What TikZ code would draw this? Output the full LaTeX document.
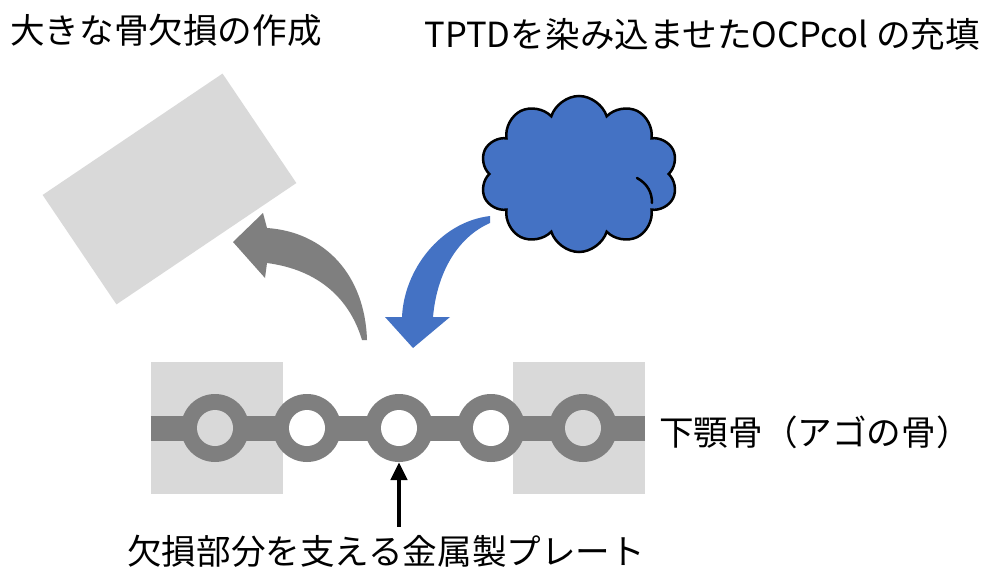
\documentclass[tikz,border=0pt]{standalone}
\usepackage{fontspec}
\setmainfont{Noto Sans CJK JP}
\usetikzlibrary{shapes.symbols, arrows.meta}
\definecolor{bonegray}{RGB}{217,217,217}
\definecolor{plategray}{RGB}{127,127,127}
\definecolor{fillblue}{RGB}{68,114,196}

\begin{document}
\begin{tikzpicture}[x=1pt, y=-1pt,
  labeltext/.style={font=\fontsize{34.6}{40}\selectfont, inner sep=0pt, text=black},
  bone/.style={fill=bonegray, draw=none, inner sep=0pt},
  ring/.style={circle, fill=plategray, minimum size=68pt, inner sep=0pt},
  hole/.style={circle, minimum size=36pt, inner sep=0pt},
  pointer/.style={line width=4.5pt, -{Triangle[length=18pt, width=16pt]}},
]
\useasboundingbox (0,0) rectangle (987,572);
\fill[white] (0,0) rectangle (987,572);

% removed bone block, tilted away from the jaw
\node[bone, minimum width=217pt, minimum height=132pt, rotate=34] (block) at (169.5,189) {};

% remaining jaw bone on both sides
\node[bone, minimum width=132pt, minimum height=132pt] (jawL) at (217,428) {};
\node[bone, minimum width=132pt, minimum height=132pt] (jawR) at (579,428) {};

% metal plate: bar with screw rings
\draw[plategray, line width=25pt] (jawL.west) -- (jawR.east);
\foreach \i/\x in {1/215, 2/307, 3/399, 4/491, 5/583}
  \node[ring] (r\i) at (\x,428) {};
\node[hole, fill=bonegray] (h1) at (r1) {};
\node[hole, fill=white] (h2) at (r2) {};
\node[hole, fill=white] (h3) at (r3) {};
\node[hole, fill=white] (h4) at (r4) {};
\node[hole, fill=bonegray] (h5) at (r5) {};

% curved arrow: the block is taken out
\fill[plategray] (367,340) .. controls (365,275) and (325,232) .. (267,228)
  -- (263,213) -- (233,242) -- (265,278) -- (267,263)
  .. controls (320,270) and (350,300) .. (362,340) -- cycle;

% soaked scaffold
\node[cloud, cloud puffs=10, cloud puff arc=145, aspect=1.3, draw=black,
  line width=2.5pt, fill=fillblue, minimum width=198pt, minimum height=156pt,
  inner sep=0pt] (cloud) at (579,174) {};
\draw[line width=2.5pt, line cap=round] (637,178) .. controls (648,184) and (652,193) .. (652,203);

% curved arrow: the scaffold fills the defect
\fill[fillblue] (490,216) .. controls (440,222) and (404,270) .. (402,317)
  -- (385,317) -- (413,348) -- (450,317) -- (433,317)
  .. controls (437,272) and (458,237) .. (490,223) -- cycle;

% texts
\node[labeltext, anchor=west] (defect) at (10,30) {大きな骨欠損の作成};
\node[labeltext, anchor=east] (filling) at (980,34) {TPTDを染み込ませたOCPcol の充填};
\node[labeltext, anchor=west] (jawname) at (659,432) {下顎骨（アゴの骨）};
\node[labeltext, anchor=west] (plate) at (127,551) {欠損部分を支える金属製プレート};

\draw[pointer] ([yshift=8pt]plate.north -| r3.south) -- (r3.south);
\end{tikzpicture}
\end{document}
